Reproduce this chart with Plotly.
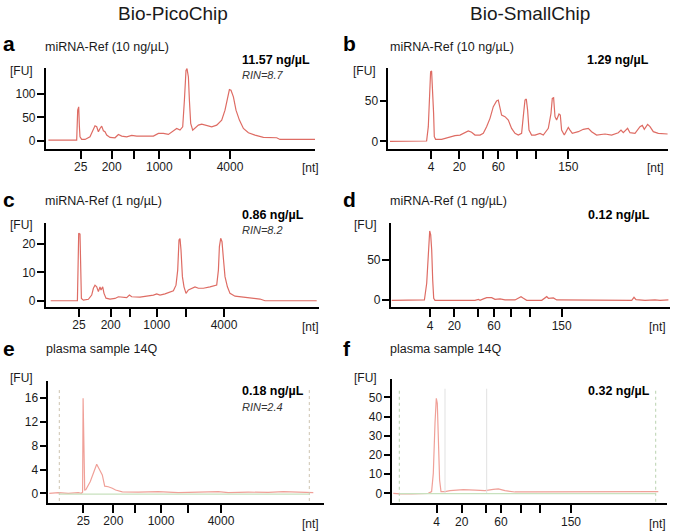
import plotly.graph_objects as go

W, H = 675, 531

# ---------------- data (t = migration position, a.u.; fu = fluorescence units) ----------------
a_t = [2.7, 31, 32, 33, 33.7, 34.3, 36, 39.3, 44.3, 47.7, 49.3, 51, 52.7, 54.3, 56, 57.7, 59.3, 61, 64.3, 69.3,
       72.7, 76, 81, 86, 91, 97.7, 107.7, 112.7, 117.7, 122.7, 127.7, 131, 134.3, 137, 138.7, 140.3, 141.3, 142.7,
       143.7, 145, 147, 149.3, 152.7, 156, 161, 166, 171, 176, 179.3, 181.7, 183.7, 185.3, 187.7, 190.3, 193.7,
       197.7, 202.7, 209.3, 217.7, 231, 234.3, 269.3]
a_fu = [1.4, 1.4, 65.5, 72.6, 30, 8.5, 2.8, 2.8, 8.5, 22.8, 32, 30, 19.2, 26.4, 31.3, 21.4, 19.2, 12.1, 7.1, 6.4,
        13.5, 10, 8.5, 11.4, 10, 10, 10, 15.7, 15.7, 13.5, 21.4, 26.4, 22.8, 29.9, 86.9, 151, 154.6, 136.8,
        86.9, 37, 22.8, 26.4, 33.5, 35.6, 33.5, 29.9, 33.5, 44.2, 65.5, 94, 109.7, 108.3, 94, 65.5, 44.2,
        26.4, 17.1, 12.1, 7.1, 6.4, 2.8, 2.8]

b_t = [1.7, 38.3, 40, 41.3, 42.3, 43.3, 44.3, 45.3, 46, 47.3, 53.3, 60, 66.7, 71.7, 76.7, 80, 83.3, 86.7, 91.7,
       95, 98.3, 101.7, 105, 108.3, 110, 111.7, 113.3, 116.7, 120, 123.3, 126.7, 130, 133.3, 135.3, 136.7, 138,
       139.3, 140.7, 143.3, 146.7, 151.7, 155, 160, 162.7, 164, 165.3, 166.7, 168.3, 170.7, 172, 173.3, 176,
       178.3, 180, 181.7, 184, 190, 195, 200, 203.3, 208.3, 216.7, 223.3, 230, 232.7, 235, 239.3, 241.7, 246.7,
       251.7, 254, 256, 259.3, 261.7, 265, 270, 279.3]
b_fu = [0, 0.4, 18.2, 59.5, 86.3, 87.1, 67.7, 34.7, 5.8, 2.5, 2.5, 5, 7, 7.8, 10.7, 12.8, 11.2, 7.8, 7.8,
        9.9, 18.2, 28.5, 43, 50, 51.2, 43, 32.6, 30.6, 26.4, 16.1, 9.9, 7.8, 9.9, 34.7, 51.2, 52.5,
        38.8, 14, 7.8, 7.8, 9.9, 7.8, 16.1, 34.7, 53.3, 54.1, 30.6, 26.4, 33.9, 32.6, 14, 7.8,
        14, 17.3, 14, 9.9, 12, 14.9, 16.1, 12, 7.8, 9.1, 7.8, 10.7, 14, 10.7, 16.1, 10.7, 9.9,
        18.2, 19.8, 14.9, 21.1, 18.2, 12, 9.9, 9.1]

c_t = [5, 31.7, 32.3, 33, 34.3, 35, 35.7, 37.7, 42.7, 46, 47.7, 49.3, 51, 52.7, 54.3, 55.3, 57, 58.3, 60.3, 64.3,
       69.3, 72.7, 76, 81, 83.7, 86, 94.3, 102.7, 107.7, 111, 114.3, 119.3, 124.3, 127.7, 130.3, 132, 133.3,
       134.3, 135.3, 136.7, 138.3, 140.3, 142.7, 146, 149.3, 152.7, 157.7, 164.3, 171, 172.7, 173.7, 175,
       176.3, 177.7, 179.3, 181.7, 184.3, 189.3, 194.3, 201, 214.3, 219.3, 271]
c_fu = [0, 0, 10.8, 23.8, 23.5, 10.8, 0.8, 0.2, 0.5, 2, 4.4, 5.5, 4.9, 3.2, 4.9, 3.8, 4.9, 2.6, 0.9, 0.6,
        0.8, 1.4, 1.2, 1.1, 2, 1.4, 1.3, 1.6, 2, 2.4, 2, 2.4, 3.2, 3.5, 5.5, 10.8, 21.4,
        21.9, 17.9, 8.5, 4.9, 2.6, 3.8, 4.4, 4.9, 4.4, 4.4, 4.9, 5.5, 10.8, 19.1, 22,
        20.8, 14.9, 8.5, 4.9, 2.6, 1.6, 1.4, 1.1, 0.6, 0, 0]

d_t = [1, 33.7, 36, 37.7, 39, 40, 41, 42, 43, 44.3, 84.3, 87.7, 89.3, 92.7, 96, 101, 104.3, 109.3, 114.3, 124.3,
       128.3, 130.3, 132.7, 136, 151, 154.3, 156, 157.7, 160.3, 162.7, 166, 171, 177.7, 187.7, 191, 217.7, 221,
       226, 231, 241, 243.3, 245.3, 254.3, 259.3, 264.3, 269.3, 277.7]
d_fu = [0, 0.4, 21.1, 54.1, 85.9, 81, 62.4, 25.2, 2.5, 0, 0, 1.2, 0, 1.7, 3.3, 3.3, 1.2, 1.7, 0.4, 0.4,
        2.5, 4.5, 2.5, 0, 0, 2.5, 4.5, 2.5, 2.5, 2.9, 0.4, 0.4, 0, 0.4, 0, 0, 0.8,
        0.4, 0, 0, 3.7, 0.8, 0, 0.4, 0.4, 0, 0.4]

e_t = [1, 10, 20, 30, 33, 34.3, 34.8, 35.5, 36.4, 37.5, 42, 48.4, 51, 54, 56.4, 60, 64, 67.3, 74, 90, 110, 130,
       150, 170, 180, 200, 220, 235, 250, 265]
e_fu = [0, 0.1, 0, 0.1, 0, 0.2, 16, 8, 0.55, 0.6, 2, 4.9, 4.0, 3.1, 1.2, 1.1, 0.85, 0.55, 0.25, 0.2, 0.3, 0.1,
        0.2, 0.3, 0.1, 0.2, 0.15, 0.3, 0.2, 0.1]

f_t = [1, 7.7, 19.3, 36, 39.3, 41, 42.7, 44, 45, 46, 47.3, 48.7, 52.7, 57.7, 64.3, 71, 82.7, 92.7, 101, 106,
       112.7, 122.7, 142.7, 176, 209.3, 242.7, 266]
f_fu = [0, -0.3, -0.3, 0, 0.9, 10.4, 36.5, 49.5, 46.9, 31.2, 6.9, 0.9, 0.9, 1.4, 1.7, 1.9, 1.7, 1.4, 2.1, 2.3,
        1.4, 0.7, 0.7, 0.7, 0.9, 0.9, 0.9]

# x ticks (ladder positions, size labels)
pico_ticks_a = [35, 66, 88.3, 113.6, 144.3, 184.3]
pico_ticks_c = [33.3, 65, 84.3, 111, 140.3, 178.3]
pico_ticks_e = [35, 65, 86.7, 112.7, 140, 172.7]
pico_labels = ["25", "200", "", "1000", "", "4000"]
small_ticks_b = [42.7, 71, 95, 110, 128.4, 147.7, 180]
small_ticks_d = [39.3, 63.6, 87.6, 103.3, 120, 139.3, 171]
small_ticks_f = [44.4, 69.4, 93.4, 108.7, 128.4, 147.7, 178.7]
small_labels = ["4", "20", "", "60", "", "", "150"]

y_ticks_a = [0, 50, 100]
y_ticks_b = [0, 50]
y_ticks_c = [0, 10, 20]
y_ticks_d = [0, 50]
y_ticks_e = [0, 4, 8, 12, 16]
y_ticks_f = [0, 10, 20, 30, 40, 50]

panel_letters = ["a", "b", "c", "d", "e", "f"]
panel_titles = ["miRNA-Ref (10 ng/µL)", "miRNA-Ref (10 ng/µL)", "miRNA-Ref (1 ng/µL)",
                "miRNA-Ref (1 ng/µL)", "plasma sample 14Q", "plasma sample 14Q"]
concentrations = ["11.57 ng/µL", "1.29 ng/µL", "0.86 ng/µL", "0.12 ng/µL", "0.18 ng/µL", "0.32 ng/µL"]
rin_values = ["RIN=8.7", None, "RIN=8.2", None, "RIN=2.4", None]
column_titles = ["Bio-PicoChip", "Bio-SmallChip"]

# ---------------- layout geometry (px) ----------------
FONT = "Arial, Liberation Sans, sans-serif"
TXT = "#1a1a1a"
RED = "rgb(222,108,100)"
PALE = "rgb(240,160,152)"

panels = [
    dict(t=a_t, fu=a_fu, xt=pico_ticks_a, xl=pico_labels, yt=y_ticks_a, xd=(45.7, 315), yd=(68, 149),
         xr=(0, 269.3), yr=(-17.7, 156), col=RED),
    dict(t=b_t, fu=b_fu, xt=small_ticks_b, xl=small_labels, yt=y_ticks_b, xd=(388.3, 668), yd=(68.3, 149),
         xr=(0, 279.7), yr=(-9.5, 90.6), col=RED),
    dict(t=c_t, fu=c_fu, xt=pico_ticks_c, xl=pico_labels, yt=y_ticks_c, xd=(45.7, 319), yd=(223.3, 306.7),
         xr=(0, 273.3), yr=(-2.1, 27.3), col=RED),
    dict(t=d_t, fu=d_fu, xt=small_ticks_d, xl=small_labels, yt=y_ticks_d, xd=(390.7, 670), yd=(223.3, 307.3),
         xr=(0, 279.3), yr=(-8.7, 95.4), col=RED),
    dict(t=e_t, fu=e_fu, xt=pico_ticks_e, xl=pico_labels, yt=y_ticks_e, xd=(48.3, 324), yd=(381, 502.7),
         xr=(0, 275.7), yr=(-1.58, 18.9), col=PALE),
    dict(t=f_t, fu=f_fu, xt=small_ticks_f, xl=small_labels, yt=y_ticks_f, xd=(392.3, 666.7), yd=(379.3, 503.3),
         xr=(0, 274.4), yr=(-5.2, 59.4), col=PALE),
]

fig = go.Figure()
layout = dict(width=W, height=H, margin=dict(l=0, r=0, t=0, b=0), paper_bgcolor="white",
              plot_bgcolor="white", showlegend=False, font=dict(family=FONT, color=TXT))
shapes = []
annotations = []


def px(x):
    return x / W


def py(y):
    return 1 - y / H


for i, p in enumerate(panels):
    n = i + 1
    sx = "" if n == 1 else str(n)
    # light markers for plasma panels (e,f)
    if i >= 4:
        if i == 4:
            lims = (11, 261)
            ytop, ybot = 17.7, -1.3
            dcol = "rgb(205,195,175)"
        else:
            lims = (7, 263.4)
            ytop, ybot = 54.5, -4.4
            dcol = "rgb(185,210,175)"
            for gx in (52.7, 94.4):
                shapes.append(dict(type="line", xref="x" + sx, yref="y" + sx, x0=gx, x1=gx, y0=-0.3, y1=ytop,
                                   line=dict(color="rgb(225,225,225)", width=1)))
        for lx in lims:
            shapes.append(dict(type="line", xref="x" + sx, yref="y" + sx, x0=lx, x1=lx, y0=ybot, y1=ytop,
                               line=dict(color=dcol, width=1, dash="dot")))
        shapes.append(dict(type="line", xref="x" + sx, yref="y" + sx, x0=lims[0], x1=lims[1], y0=-0.15, y1=-0.15,
                           line=dict(color="rgb(200,225,190)", width=1.2)))
    fig.add_trace(go.Scatter(x=p["t"], y=p["fu"], mode="lines", xaxis="x" + sx, yaxis="y" + sx,
                             line=dict(color=p["col"], width=1.2), hoverinfo="skip"))
    layout["xaxis" + sx] = dict(domain=[px(p["xd"][0]), px(p["xd"][1])], range=list(p["xr"]), anchor="y" + sx,
                                showline=True, linecolor="black", linewidth=1.6, ticks="outside", ticklen=8,
                                tickwidth=1.6, tickcolor="black", tickvals=p["xt"], ticktext=p["xl"],
                                showgrid=False, zeroline=False, tickfont=dict(size=12, color=TXT),
                                ticklabelstandoff=-2, fixedrange=True)
    layout["yaxis" + sx] = dict(domain=[py(p["yd"][1]), py(p["yd"][0])], range=list(p["yr"]), anchor="x" + sx,
                                showline=True, linecolor="black", linewidth=1.6, ticks="outside", ticklen=7,
                                tickwidth=1.6, tickcolor="black", tickvals=p["yt"],
                                showgrid=False, zeroline=False, tickfont=dict(size=12, color=TXT),
                                ticklabelstandoff=-1, fixedrange=True)

# ---------------- text ----------------
def ann(text, x, y, size, xanchor="left", bold=False, italic=False, color=TXT):
    t = text
    if bold:
        t = "<b>" + t + "</b>"
    if italic:
        t = "<i>" + t + "</i>"
    annotations.append(dict(text=t, x=px(x), y=py(y), xref="paper", yref="paper", xanchor=xanchor,
                            yanchor="middle", showarrow=False, font=dict(size=size, color=color, family=FONT)))


ann(column_titles[0], 172.5, 13, 19, xanchor="center")
ann(column_titles[1], 530, 13, 19, xanchor="center")

letter_pos = [(1, 44), (341, 44), (1, 200), (341, 200), (1, 348), (341, 348)]
title_pos = [(43, 47), (388, 47), (43, 201), (388, 201), (44, 348.5), (388, 348.5)]
conc_pos = [(240, 60.5), (585, 60.5), (240, 214.5), (586, 214.5), (240, 391), (585.5, 390.5)]
rin_pos = [(240, 75), None, (240, 230), None, (240, 406.5), None]
fu_pos = [(7.5, 71.5), (351, 71.5), (7.5, 225), (352, 225), (7.5, 377.5), (352, 377.5)]
nt_pos = [(300, 167.5), (645, 167.5), (300, 327), (647, 327), (300, 524), (647, 524)]

for i in range(6):
    ann(panel_letters[i], *letter_pos[i], 21, bold=True, color="black")
    ann(panel_titles[i], *title_pos[i], 12.5)
    ann(concentrations[i], *conc_pos[i], 12.5, bold=True, color="black")
    if rin_values[i]:
        ann(rin_values[i], *rin_pos[i], 11, italic=True, color="#333")
    ann("[FU]", *fu_pos[i], 12)
    ann("[nt]", *nt_pos[i], 12)

layout["shapes"] = shapes
layout["annotations"] = annotations
fig.update_layout(**layout)
fig.write_html("out.html", config={"displayModeBar": False},
               post_script="document.body.style.margin='0';document.body.style.padding='0';")
